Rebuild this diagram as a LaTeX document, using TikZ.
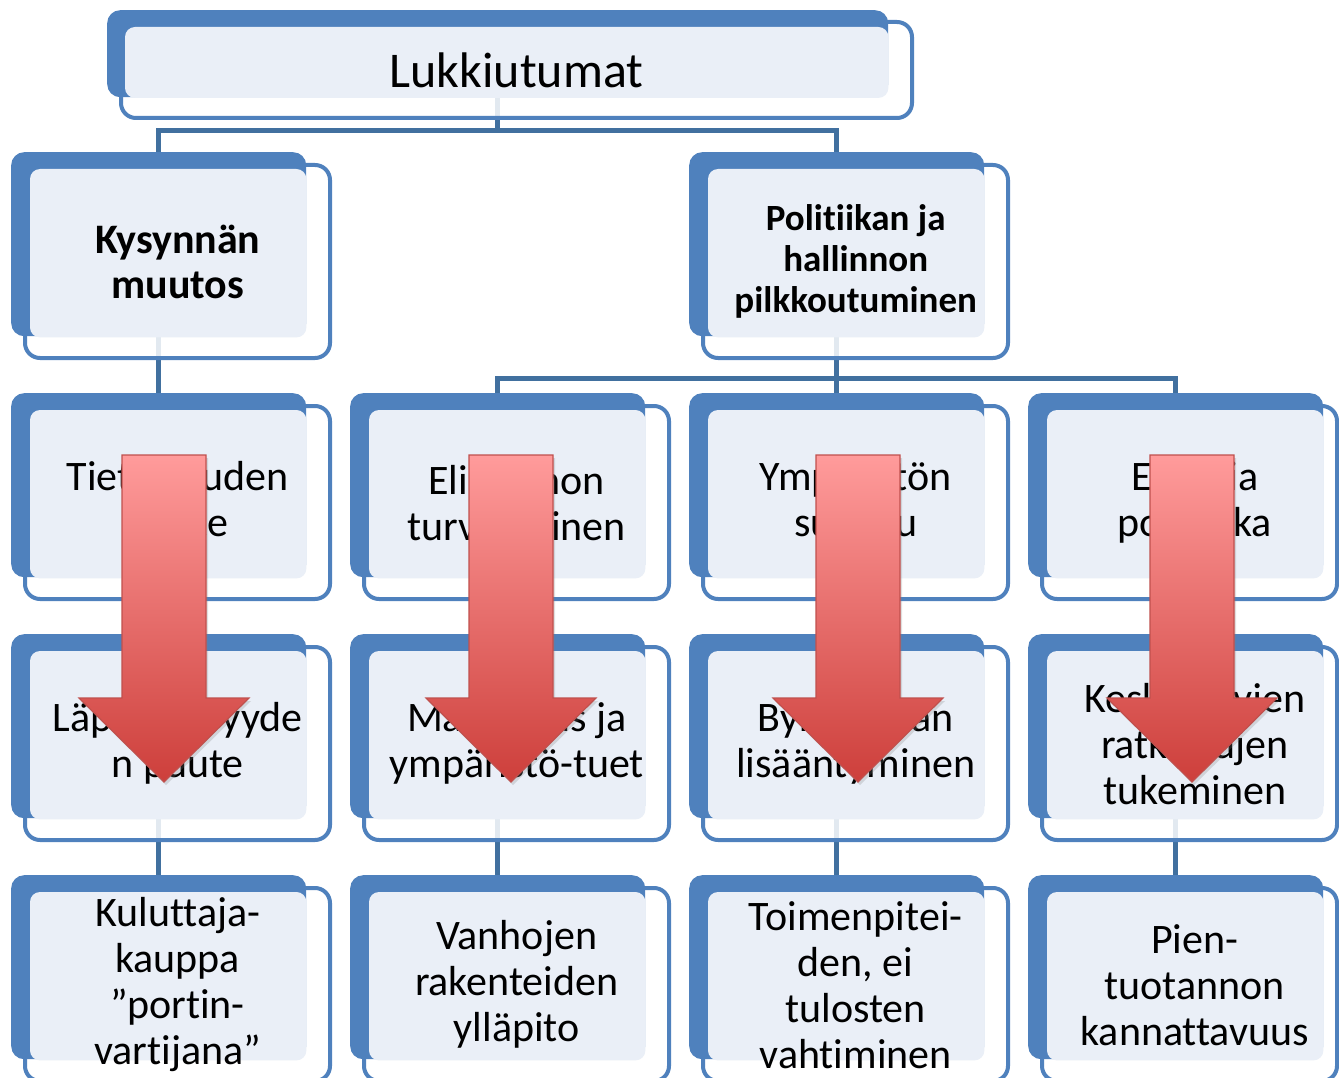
\documentclass[tikz,border=0pt]{standalone}
\usepackage{fontspec}
\setmainfont{Carlito}[Ligatures=NoCommon]
\usetikzlibrary{calc,shadows}
\pgfdeclarelayer{bg}
\pgfsetlayers{bg,main}

\definecolor{cardblue}{HTML}{4F81BD}
\definecolor{cardface}{HTML}{EAEFF7}
\definecolor{linkblue}{HTML}{41709F}
\definecolor{arrowtop}{HTML}{FF9B9B}
\definecolor{arrowbot}{HTML}{CD3F3B}
\definecolor{arrowline}{HTML}{C0504D}

\newcommand\lkbody{\fontsize{42}{46}\selectfont}
\newcommand\lkhead{\fontsize{42}{45}\selectfont\bfseries}
\newcommand\lkheadsmall{\fontsize{37}{41}\selectfont\bfseries}

\tikzset{
  cardback/.style={fill=cardblue, rounded corners=13pt, inner sep=0pt},
  cardframe/.style={draw=cardblue, line width=4pt, fill=white, fill opacity=0.85, rounded corners=15pt},
  cardface/.style={fill=cardface, rounded corners=10pt},
  cardtext/.style={align=center, inner sep=0pt, font=\lkbody},
  link/.style={draw=linkblue, line width=5.5pt},
  bigarrow/.style={draw=arrowline, line width=1.2pt, top color=arrowtop, bottom color=arrowbot,
    drop shadow={opacity=0.25, shadow xshift=2pt, shadow yshift=-3pt}}
}

% card: [text options] name, column, row, text
\newcommand\lkcard[5][]{%
  \pgfmathsetmacro\lkbx{11+339*#3}%
  \pgfmathsetmacro\lkby{152+241*#4}%
  \pgfmathsetmacro\lkfw{min(305,1312-339*#3)}%
  \path[cardframe] (\lkbx+14,\lkby+13) rectangle ++(\lkfw,193);
  \node[cardback, minimum width=295, minimum height=184, anchor=north west] (#2) at (\lkbx,\lkby) {};
  \path[cardface] ($(#2.north west)+(19,17)$) rectangle ($(#2.south east)+(0,1)$);
  \node[cardtext,#1] (#2-t) at ($(#2.center)+(19,17.5)$) {#5};
}

\begin{document}
\begin{tikzpicture}[x=1pt, y=-1pt]
\useasboundingbox (0,0) rectangle (1339,1078);

% top box
\path[cardframe] (121,22) rectangle (912,118);
\node[cardback, minimum width=781, minimum height=87, anchor=north west] (lukko) at (107,10) {};
\path[cardface] ($(lukko.north west)+(18,17)$) rectangle ($(lukko.south east)+(0,0.5)$);
\node[cardtext, font=\fontsize{50}{55}\selectfont] (lukkot) at (516.5,70) {Lukkiutumat};

% cards
\lkcard[font=\lkhead]{kysynta}{0}{0}{Kysynnän\\muutos}
\lkcard[font=\lkheadsmall]{politiikka}{2}{0}{Politiikan ja\\hallinnon\\pilkkoutuminen}
\lkcard{tietoisuus}{0}{1}{Tietoisuuden\\puute}
\lkcard{elinkeino}{1}{1}{Elinkeinon\\turvaaminen}
\lkcard{ymparisto}{2}{1}{Ympäristön\\suojelu}
\lkcard{energia}{3}{1}{Energia\\politiikka}
\lkcard{lapinakyvyys}{0}{2}{Läpinäkyvyyde\\n puute}
\lkcard{tuet}{1}{2}{Maatalous ja\\ympäristö-tuet}
\lkcard{byrokratia}{2}{2}{Byrokratian\\lisääntyminen}
\lkcard{ratkaisut}{3}{2}{Keskitettyjen\\ratkaisujen\\tukeminen}
\lkcard{kuluttaja}{0}{3}{Kuluttaja-\\kauppa\\”portin-\\vartijana”}
\lkcard{rakenteet}{1}{3}{Vanhojen\\rakenteiden\\ylläpito}
\lkcard{toimenpiteet}{2}{3}{Toimenpitei-\\den, ei\\tulosten\\vahtiminen}
\lkcard{pientuotanto}{3}{3}{Pien-\\tuotannon\\kannattavuus}

% connectors
\begin{pgfonlayer}{bg}
\draw[link] (lukko.south) -- ++(0,33) -| (kysynta.north);
\draw[link] (lukko.south) ++(0,33) -| (politiikka.north);
\draw[link] (kysynta.south) -- (tietoisuus.north);
\draw[link] (politiikka.south) -- ++(0,42) -| (elinkeino.north);
\draw[link] (politiikka.south) ++(0,42) -| (energia.north);
\draw[link] (politiikka.south) -- (ymparisto.north);
\foreach \a/\b in {tietoisuus/lapinakyvyys, elinkeino/tuet, ymparisto/byrokratia, energia/ratkaisut,
  lapinakyvyys/kuluttaja, tuet/rakenteet, byrokratia/toimenpiteet, ratkaisut/pientuotanto}
  \draw[link] (\a.south) -- (\b.north);
\end{pgfonlayer}

% big red arrows
\foreach \ax in {164,511,858,1192}
  \path[bigarrow] (\ax-42,455) -- (\ax+42,455) -- (\ax+42,698) -- (\ax+85,698)
    -- (\ax,782) -- (\ax-85,698) -- (\ax-42,698) -- cycle;
\end{tikzpicture}
\end{document}
